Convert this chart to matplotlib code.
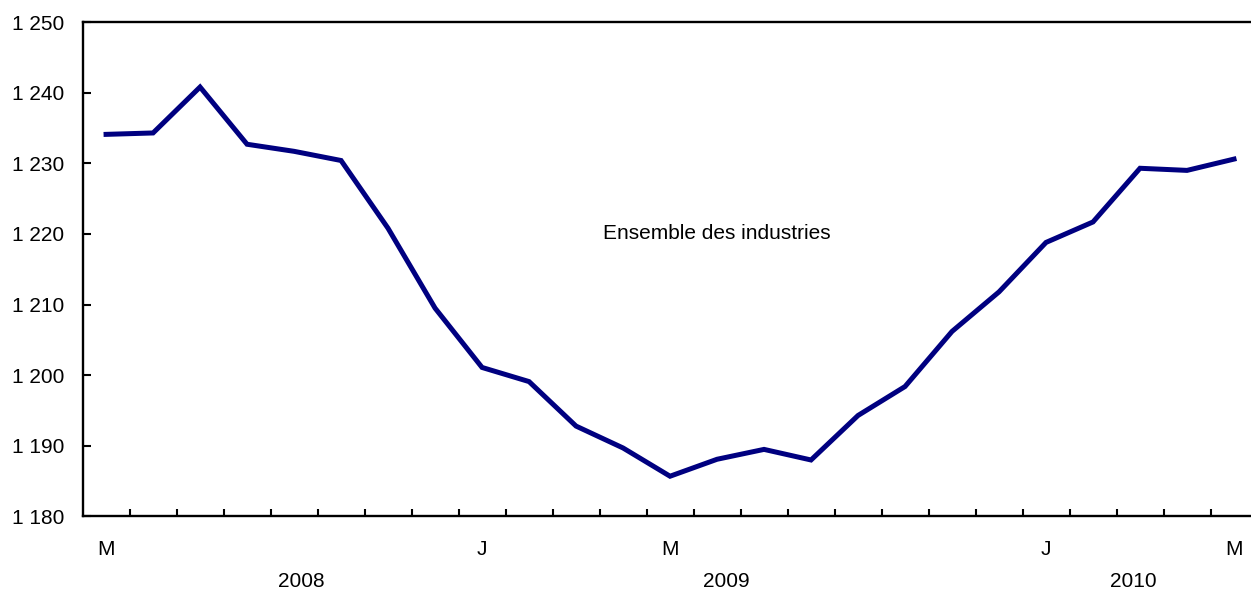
import matplotlib
matplotlib.use("Agg")
from matplotlib import pyplot as plt
from matplotlib.ticker import FuncFormatter

plt.rcParams['font.family'] = ['Liberation Sans', 'DejaVu Sans']

# monthly values, May 2008 to May 2010
values = [1234.1, 1234.3, 1240.8, 1232.7, 1231.7, 1230.4, 1220.8, 1209.5,
          1201.1, 1199.1, 1192.8, 1189.7, 1185.7, 1188.1, 1189.5, 1188.0,
          1194.3, 1198.4, 1206.2, 1211.8, 1218.8, 1221.7, 1229.3, 1229.0,
          1230.6]
month_labels = {0: "M", 8: "J", 12: "M", 20: "J", 24: "M"}
years = ["2008", "2009", "2010"]
year_pos = [4.15, 13.2, 21.85]
series_label = "Ensemble des industries"

fig = plt.figure(figsize=(12.51, 5.9), dpi=100)
ax = fig.add_axes([0.066, 0.1246, 0.9392, 0.838])

x = list(range(len(values)))
ax.plot(x, values, color="#000080", lw=3.6, solid_joinstyle="miter")

ax.set_xlim(-0.5, len(values) - 0.5)
ax.set_ylim(1180, 1250)
ax.set_yticks(range(1180, 1251, 10))
ax.yaxis.set_major_formatter(FuncFormatter(
    lambda v, p: "{:,}".format(int(v)).replace(",", " ")))

ax.set_xticks(list(month_labels.keys()))
ax.set_xticklabels(list(month_labels.values()))
ax.set_xticks([i - 0.5 for i in range(1, len(values))], minor=True)

ax.tick_params(axis="x", which="major", length=0, pad=17, labelsize=15)
ax.tick_params(axis="x", which="minor", direction="in", length=5, width=1.5)
ax.tick_params(axis="y", direction="in", length=6, width=1.5, pad=13,
               labelsize=15)

for s in ["left", "bottom", "top"]:
    ax.spines[s].set_linewidth(1.7)
ax.spines["right"].set_visible(False)

for yr, xp in zip(years, year_pos):
    ax.text(xp, -0.1325, yr, transform=ax.get_xaxis_transform(),
            ha="center", va="center", fontsize=15)

ax.text(13.0, 1220.0, series_label, ha="center", va="center", fontsize=15)

fig.savefig("out.png", dpi=100)
